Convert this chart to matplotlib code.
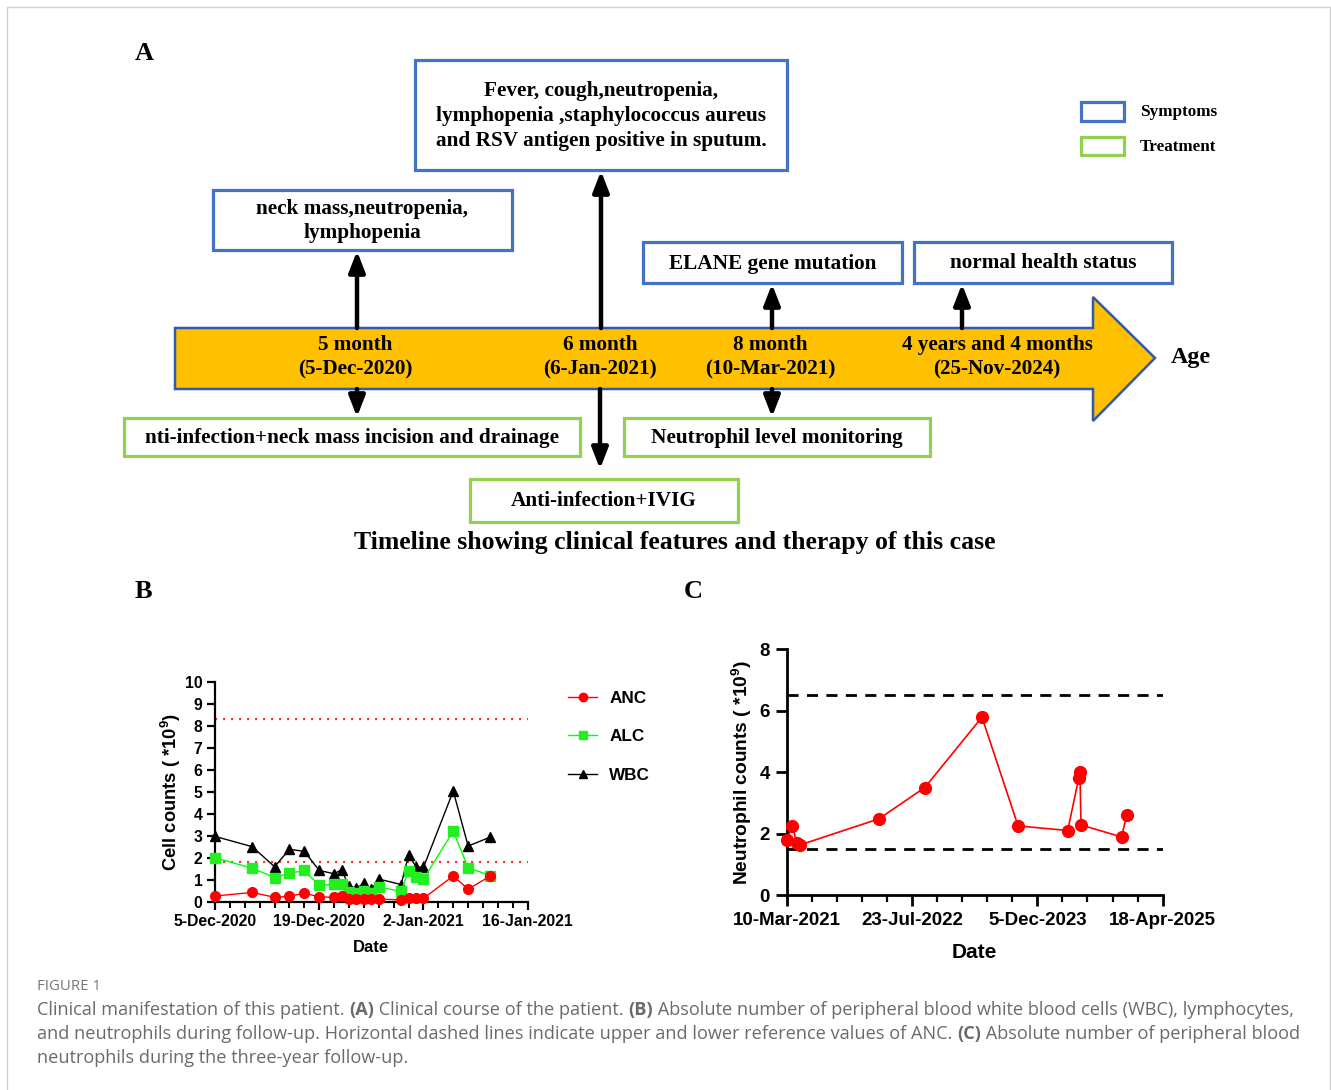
import matplotlib
matplotlib.use('Agg')
import matplotlib.pyplot as plt
import matplotlib.dates as mdates
from matplotlib.patches import Rectangle, Polygon
from matplotlib.ticker import FuncFormatter, FixedLocator
import datetime as dt
import numpy as np

plt.rcParams['mathtext.fontset'] = 'custom'
plt.rcParams['mathtext.rm'] = 'Liberation Sans:bold'
plt.rcParams['mathtext.bf'] = 'Liberation Sans:bold'
plt.rcParams['mathtext.it'] = 'Liberation Sans:bold'

# ---------------- Panel A data ----------------
milestones = ["5 month\n(5-Dec-2020)", "6 month\n(6-Jan-2021)",
              "8 month\n(10-Mar-2021)", "4 years and 4 months\n(25-Nov-2024)"]
symptoms = ["neck mass,neutropenia,\nlymphopenia",
            "Fever, cough,neutropenia,\nlymphopenia ,staphylococcus aureus\nand RSV antigen positive in sputum.",
            "ELANE gene mutation", "normal health status"]
treatments = ["nti-infection+neck mass incision and drainage",
              "Anti-infection+IVIG", "Neutrophil level monitoring"]
legend_a = ["Symptoms", "Treatment"]
title_a = "Timeline showing clinical features and therapy of this case"

# ---------------- Panel B data ----------------
b_dates = ['2020-12-05', '2020-12-10', '2020-12-13', '2020-12-15', '2020-12-17',
           '2020-12-19', '2020-12-21', '2020-12-22', '2020-12-23', '2020-12-24',
           '2020-12-25', '2020-12-26', '2020-12-27', '2020-12-30', '2020-12-31',
           '2021-01-01', '2021-01-02', '2021-01-06', '2021-01-08', '2021-01-11']
anc = [0.26, 0.42, 0.20, 0.24, 0.39, 0.22, 0.20, 0.28, 0.12, 0.12,
       0.12, 0.12, 0.12, 0.08, 0.17, 0.17, 0.15, 1.17, 0.57, 1.17]
alc = [2.00, 1.52, 1.10, 1.29, 1.42, 0.74, 0.80, 0.82, 0.42, 0.38,
       0.47, 0.40, 0.67, 0.47, 1.40, 1.12, 1.03, 3.20, 1.55, 1.18]
wbc = [2.97, 2.50, 1.59, 2.38, 2.29, 1.42, 1.27, 1.45, 0.70, 0.62,
       0.84, 0.56, 1.03, 0.78, 2.12, 1.60, 1.56, 5.03, 2.53, 2.94]
b_ref = [8.3, 1.8]
b_xlim = ['2020-12-05', '2021-01-16']

# ---------------- Panel C data ----------------
c_dates = ['2021-03-10', '2021-04-02', '2021-04-19', '2021-05-02', '2022-03-13',
           '2022-09-12', '2023-04-28', '2023-09-19', '2024-04-04', '2024-05-18',
           '2024-05-23', '2024-05-27', '2024-11-05', '2024-11-25']
c_vals = [1.79, 2.26, 1.68, 1.63, 2.48, 3.50, 5.79, 2.25, 2.10, 3.80,
          4.00, 2.28, 1.89, 2.60]
c_ref = [6.5, 1.5]
c_xlim = ['2021-03-10', '2025-04-18']

caption_head = "FIGURE 1"
caption_lines = [
    [("Clinical manifestation of this patient. ", False), ("(A)", True),
     (" Clinical course of the patient. ", False), ("(B)", True),
     (" Absolute number of peripheral blood white blood cells (WBC), lymphocytes,", False)],
    [("and neutrophils during follow-up. Horizontal dashed lines indicate upper and lower reference values of ANC. ", False),
     ("(C)", True), (" Absolute number of peripheral blood", False)],
    [("neutrophils during the three-year follow-up.", False)],
]


def dnum(s):
    return mdates.date2num(dt.datetime.strptime(s, '%Y-%m-%d'))


def datefmt(x, pos=None):
    d = mdates.num2date(x)
    return f"{d.day}-{d.strftime('%b-%Y')}"


W, H = 1331, 1090
fig = plt.figure(figsize=(W / 100, H / 100), dpi=100)
ax0 = fig.add_axes([0, 0, 1, 1])
ax0.set_xlim(0, W)
ax0.set_ylim(H, 0)
ax0.axis('off')

# border
ax0.add_patch(Rectangle((7, 7), 1323, 1100, fill=False, ec='#cfcfcf', lw=1.0))

SERIF = 'Liberation Serif'
BLUE = '#4472C4'
GREEN = '#92D050'

ax0.text(135, 53, "A", family=SERIF, fontweight='bold', fontsize=19, va='center', ha='left')
ax0.text(135, 592, "B", family=SERIF, fontweight='bold', fontsize=19, va='center', ha='left')
ax0.text(684, 592, "C", family=SERIF, fontweight='bold', fontsize=19, va='center', ha='left')

# big arrow
arrow_pts = [(175, 328), (1093, 328), (1093, 297), (1155, 358), (1093, 421), (1093, 389), (175, 389)]
ax0.add_patch(Polygon(arrow_pts, closed=True, fc='#FFC000', ec='#2F5AAE', lw=1.8, zorder=2))

ms_x = [355, 600, 770, 997]
for x, lab in zip(ms_x, milestones):
    ax0.text(x, 357, lab, family=SERIF, fontweight='bold', fontsize=15.2,
             ha='center', va='center', linespacing=1.33, zorder=3)
ax0.text(1191, 357, "Age", family=SERIF, fontweight='bold', fontsize=17.3, ha='center', va='center')


def box(x0, y0, x1, y1, text, color):
    ax0.add_patch(Rectangle((x0, y0), x1 - x0, y1 - y0, fill=True, fc='white',
                            ec=color, lw=2.3, zorder=2))
    ax0.text((x0 + x1) / 2, (y0 + y1) / 2 + 1, text, family=SERIF, fontweight='bold',
             fontsize=15.3, ha='center', va='center', linespacing=1.33, zorder=3)


sym_boxes = [(213, 190, 512, 250), (415, 60, 787, 170), (643, 242, 902, 283), (914, 242, 1172, 283)]
for bx, t in zip(sym_boxes, symptoms):
    box(*bx, t, BLUE)
tr_boxes = [(124, 418, 580, 456), (470, 479, 738, 522), (624, 418, 930, 456)]
for bx, t in zip(tr_boxes, treatments):
    box(*bx, t, GREEN)


def arrow(x, y0, y1):
    ax0.annotate('', xy=(x, y1), xytext=(x, y0),
                 arrowprops=dict(arrowstyle='-|>,head_length=0.9,head_width=0.35', lw=3.2, color='black',
                                 shrinkA=0, shrinkB=0, mutation_scale=14), zorder=4)


arrow(357, 328, 251)
arrow(601, 328, 171)
arrow(772, 328, 284)
arrow(962, 328, 284)
arrow(357, 389, 417)
arrow(600, 389, 469)
arrow(772, 389, 417)

# legend A
ax0.add_patch(Rectangle((1081, 102), 43, 19, fill=False, ec=BLUE, lw=2.3))
ax0.add_patch(Rectangle((1081, 137), 43, 18, fill=False, ec=GREEN, lw=2.3))
ax0.text(1140, 112, legend_a[0], family=SERIF, fontweight='bold', fontsize=12.3, va='center')
ax0.text(1140, 147, legend_a[1], family=SERIF, fontweight='bold', fontsize=12.3, va='center')

ax0.text(675, 543, title_a, family=SERIF, fontweight='bold', fontsize=18.5, ha='center', va='center')

# ---------------- Panel B ----------------
SANS = 'Liberation Sans'


def fig_rect(x0, y0, x1, y1):
    return [x0 / W, 1 - y1 / H, (x1 - x0) / W, (y1 - y0) / H]


axB = fig.add_axes(fig_rect(215, 681.7, 527.7, 901.7))
bx = [dnum(d) for d in b_dates]
for v in b_ref:
    axB.axhline(v, color='#FF3333', ls=(0, (1, 2.6)), lw=1.6, zorder=1)
axB.plot(bx, anc, '-o', color='#FF0000', lw=1.0, ms=7, label='ANC', clip_on=False, zorder=5)
axB.plot(bx, alc, '-s', color='#00FF00', mfc='#22EE22', mec='#22EE22', lw=1.0, ms=7, label='ALC',
         clip_on=False, zorder=4)
axB.plot(bx, wbc, '-^', color='black', lw=1.0, ms=7, label='WBC', clip_on=False, zorder=3)
x0b, x1b = dnum(b_xlim[0]), dnum(b_xlim[1])
axB.set_xlim(x0b, x1b)
axB.set_ylim(0, 10)
axB.xaxis.set_major_locator(FixedLocator(np.arange(x0b, x1b + 0.5, 14)))
axB.xaxis.set_minor_locator(FixedLocator(np.arange(x0b, x1b + 0.5, 2)))
axB.xaxis.set_major_formatter(FuncFormatter(datefmt))
axB.set_yticks(np.arange(0, 11, 1))
for s in ['top', 'right']:
    axB.spines[s].set_visible(False)
for s in ['left', 'bottom']:
    axB.spines[s].set_linewidth(1.6)
axB.tick_params(which='major', length=6, width=1.6, labelsize=11.3, pad=3)
axB.tick_params(which='minor', length=4, width=1.4)
for lab in axB.get_xticklabels() + axB.get_yticklabels():
    lab.set_family(SANS)
    lab.set_fontweight('bold')
axB.set_xlabel("Date", family=SANS, fontweight='bold', fontsize=12, labelpad=8)
axB.set_ylabel(r"Cell counts ( *10$^{9}$)", family=SANS, fontweight='bold', fontsize=13.2, labelpad=1)
leg = axB.legend(loc='upper left', bbox_to_anchor=(553 / W, 1 - 676 / H), bbox_transform=fig.transFigure,
                 frameon=False, handlelength=1.7, labelspacing=1.35, handletextpad=0.7,
                 prop={'family': SANS, 'weight': 'bold', 'size': 12.3})
for h in leg.legend_handles:
    h.set_markersize(6)

# ---------------- Panel C ----------------
axC = fig.add_axes(fig_rect(786.7, 649.3, 1162.7, 895))
cx = [dnum(d) for d in c_dates]
for v in c_ref:
    axC.axhline(v, color='black', ls=(0, (4, 3)), lw=2.0, zorder=1)
axC.plot(cx, c_vals, '-o', color='#FF0000', lw=1.2, ms=8.5, clip_on=False, zorder=5)
x0c, x1c = dnum(c_xlim[0]), dnum(c_xlim[1])
axC.set_xlim(x0c, x1c)
axC.set_ylim(0, 8)
axC.xaxis.set_major_locator(FixedLocator(np.arange(x0c, x1c + 1, 500)))
axC.xaxis.set_minor_locator(FixedLocator(np.arange(x0c, x1c + 1, 100)))
axC.xaxis.set_major_formatter(FuncFormatter(datefmt))
axC.set_yticks([0, 2, 4, 6, 8])
for s in ['top', 'right']:
    axC.spines[s].set_visible(False)
for s in ['left', 'bottom']:
    axC.spines[s].set_linewidth(2.0)
axC.tick_params(which='major', length=8, width=2.0, labelsize=13.5, pad=4)
axC.tick_params(which='minor', length=5, width=1.6)
for lab in axC.get_xticklabels() + axC.get_yticklabels():
    lab.set_family(SANS)
    lab.set_fontweight('bold')
axC.set_xlabel("Date", family=SANS, fontweight='bold', fontsize=15, labelpad=10)
axC.set_ylabel(r"Neutrophil counts ( *10$^{9}$)", family=SANS, fontweight='bold', fontsize=13.8, labelpad=4)

# ---------------- Caption ----------------
CAPF = 'Open Sans'
CAPC = '#6a6a6a'
ax0.text(37, 987, caption_head, family=CAPF, fontsize=10.8, color='#777777', va='center')
renderer = fig.canvas.get_renderer()
for i, line in enumerate(caption_lines):
    y = 1010 + 24 * i
    x = 37
    for txt, bold in line:
        t = ax0.text(x, y, txt, family=CAPF, fontsize=13.1, color=CAPC, va='center',
                     fontweight='bold' if bold else 'normal')
        bb = t.get_window_extent(renderer)
        x += bb.width

fig.savefig('out.png', dpi=100)
